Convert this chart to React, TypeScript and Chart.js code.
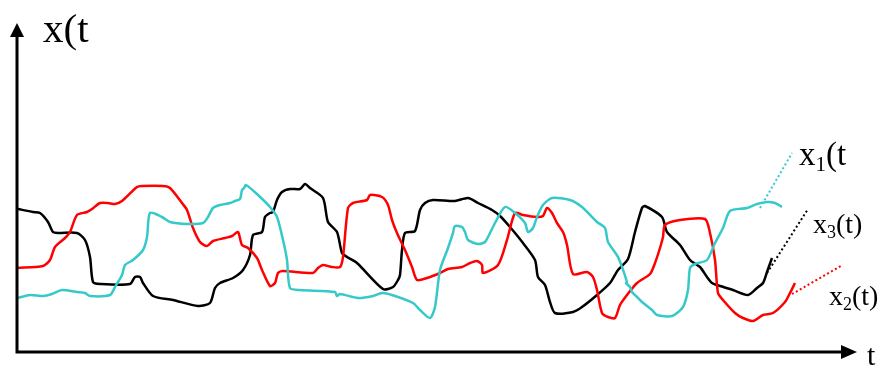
import React, { useEffect, useRef } from "react";
import { Chart, registerables } from "chart.js";

Chart.register(...registerables);

// x3(t) — black curve: [t, value]
const blackSeries: [number, number][] = [
  [1,143],[16,140],[23,139],[31,130],[36,120],[41,119],[60,119],[68,112],[73,95],[76,70],[83,68],[113,68],[118,75],[123,75],[126,69],[136,56],[156,52],[181,46],[193,49],[198,64],[203,69],[216,74],[226,82],[233,97],[236,117],[245,120],[248,135],[253,139],[256,140],[260,152],[265,160],[273,163],[283,163],[288,168],[293,164],[306,154],[311,130],[320,120],[325,99],[330,95],[340,89],[366,63],[376,65],[381,72],[383,77],[385,102],[388,119],[398,121],[403,142],[408,149],[416,152],[438,151],[451,154],[461,149],[475,142],[483,136],[493,125],[506,109],[518,92],[521,75],[528,67],[533,50],[538,39],[556,40],[565,45],[580,57],[593,69],[601,82],[611,93],[618,120],[625,144],[628,146],[645,135],[650,120],[663,107],[673,92],[683,85],[690,75],[695,69],[703,66],[716,62],[731,57],[740,64],[746,69],[750,80],[755,94]
];

// x2(t) — red curve
const redSeries: [number, number][] = [
  [0,84],[26,86],[33,92],[38,105],[48,114],[53,120],[60,137],[70,140],[75,143],[83,149],[91,149],[98,148],[105,151],[120,165],[125,166],[146,166],[153,164],[165,149],[170,142],[176,124],[183,110],[190,106],[196,111],[208,114],[215,116],[221,120],[225,107],[231,104],[240,94],[245,82],[253,66],[258,69],[261,79],[266,81],[296,79],[301,84],[306,87],[315,85],[323,85],[326,95],[331,144],[336,149],[350,152],[353,157],[365,155],[371,147],[375,132],[380,119],[388,102],[395,85],[400,72],[410,74],[423,79],[431,83],[445,85],[453,89],[460,91],[465,87],[466,79],[481,87],[490,112],[498,139],[506,137],[520,135],[526,136],[530,144],[535,139],[540,129],[546,120],[550,107],[556,78],[570,80],[576,75],[580,62],[585,39],[591,35],[598,34],[603,47],[610,57],[620,69],[633,78],[638,89],[643,104],[646,115],[648,127],[663,132],[688,133],[693,119],[698,92],[701,59],[706,52],[718,39],[726,34],[736,31],[746,37],[756,39],[768,50],[773,59],[778,69]
];

// x1(t) — cyan curve
const cyanSeries: [number, number][] = [
  [1,54],[13,57],[26,56],[35,58],[45,62],[60,60],[68,59],[73,56],[93,57],[98,65],[105,77],[108,87],[116,92],[126,102],[130,115],[133,139],[145,135],[153,130],[170,128],[186,129],[191,135],[196,144],[203,147],[213,149],[218,151],[223,153],[225,162],[227,164],[229,167],[241,157],[253,145],[260,135],[266,112],[270,92],[273,64],[283,62],[318,60],[320,56],[323,58],[341,54],[356,56],[365,59],[375,57],[396,49],[403,42],[413,34],[418,45],[423,82],[431,104],[436,119],[438,126],[445,125],[448,120],[451,112],[461,108],[468,110],[473,119],[478,129],[488,145],[498,139],[508,129],[511,120],[516,124],[520,135],[526,147],[535,154],[553,152],[565,145],[580,130],[588,124],[591,110],[601,95],[610,70],[609,69],[613,65],[615,60],[620,55],[625,50],[635,42],[640,37],[655,36],[666,45],[671,62],[673,84],[678,88],[690,92],[698,109],[706,124],[713,141],[730,144],[740,148],[750,150],[758,149],[765,145]
];

// dotted leader lines to the labels
const cyanLeader: [number, number][] = [[743,144],[775,199]];
const blackLeader: [number, number][] = [[750,79],[791,143]];
const redLeader: [number, number][] = [[775,58],[824,86]];

// axis extents (in data units)
const tMin = -17;
const tMax = 869;
const vMin = -15;
const vMax = 352;
const tAxisEnd = 840;
const vAxisEnd = 329;

// labels
const labelTexts: { main: string; sub: string; rest: string; t: number; v: number; size: number }[] = [
  { main: "x(t", sub: "", rest: "", t: 26, v: 310, size: 41 },
  { main: "x", sub: "1", rest: "(t", t: 782, v: 187, size: 33 },
  { main: "x", sub: "3", rest: "(t)", t: 796, v: 119, size: 28 },
  { main: "x", sub: "2", rest: "(t)", t: 812, v: 47, size: 28 },
  { main: "t", sub: "", rest: "", t: 850, v: -13, size: 30 },
];

const toPts = (arr: [number, number][]) => arr.map(([x, y]) => ({ x, y }));

const FONT = '"Liberation Serif", "Times New Roman", serif';

const decorPlugin = {
  id: "decor",
  afterDatasetsDraw(chart: any) {
    const ctx = chart.ctx as CanvasRenderingContext2D;
    const xs = chart.scales.x;
    const ys = chart.scales.y;
    const ox = xs.getPixelForValue(0);
    const oy = ys.getPixelForValue(0);
    const ex = xs.getPixelForValue(tAxisEnd);
    const ey = ys.getPixelForValue(vAxisEnd);
    ctx.save();
    ctx.strokeStyle = "#000";
    ctx.fillStyle = "#000";
    ctx.lineWidth = 3;
    ctx.lineCap = "butt";
    ctx.beginPath();
    ctx.moveTo(ox, oy);
    ctx.lineTo(ox, ey + 10);
    ctx.moveTo(ox - 1.5, oy);
    ctx.lineTo(ex - 12, oy);
    ctx.stroke();
    ctx.beginPath();
    ctx.moveTo(ox, ey);
    ctx.lineTo(ox - 7, ey + 14);
    ctx.lineTo(ox + 7, ey + 14);
    ctx.closePath();
    ctx.fill();
    ctx.beginPath();
    ctx.moveTo(ex, oy);
    ctx.lineTo(ex - 16, oy - 7);
    ctx.lineTo(ex - 16, oy + 7);
    ctx.closePath();
    ctx.fill();
    ctx.textBaseline = "alphabetic";
    ctx.textAlign = "left";
    for (const l of labelTexts) {
      let x = xs.getPixelForValue(l.t);
      const y = ys.getPixelForValue(l.v);
      ctx.font = `${l.size}px ${FONT}`;
      ctx.fillText(l.main, x, y);
      x += ctx.measureText(l.main).width;
      if (l.sub) {
        const s = Math.round(l.size * 0.65);
        ctx.font = `${s}px ${FONT}`;
        ctx.fillText(l.sub, x, y + l.size * 0.17);
        x += ctx.measureText(l.sub).width;
      }
      if (l.rest) {
        ctx.font = `${l.size}px ${FONT}`;
        ctx.fillText(l.rest, x, y);
      }
    }
    ctx.restore();
  },
};

export default function App() {
  const ref = useRef<HTMLCanvasElement | null>(null);
  useEffect(() => {
    document.body.style.margin = "0";
    const canvas = ref.current;
    if (!canvas) return;
    const cyan = "#36c9c9";
    const line = (data: [number, number][], color: string) => ({
      data: toPts(data),
      borderColor: color,
      borderWidth: 2.5,
      pointRadius: 0,
      tension: 0.25,
      fill: false,
    });
    const dotted = (data: [number, number][], color: string) => ({
      data: toPts(data),
      borderColor: color,
      borderWidth: 2,
      borderDash: [2, 2.5],
      pointRadius: 0,
      tension: 0,
      fill: false,
    });
    const chart = new Chart(canvas, {
      type: "line",
      data: {
        datasets: [
          line(cyanSeries, cyan),
          line(redSeries, "#ff0000"),
          line(blackSeries, "#000000"),
          dotted(cyanLeader, cyan),
          dotted(blackLeader, "#000000"),
          dotted(redLeader, "#ff0000"),
        ] as any,
      },
      options: {
        animation: false,
        responsive: false,
        maintainAspectRatio: false,
        layout: { padding: 0 },
        plugins: { legend: { display: false }, tooltip: { enabled: false } },
        scales: {
          x: { type: "linear", min: tMin, max: tMax, display: false },
          y: { type: "linear", min: vMin, max: vMax, display: false },
        },
      },
      plugins: [decorPlugin],
    });
    return () => chart.destroy();
  }, []);
  return (
    <div style={{ width: 886, height: 367, background: "#fff" }}>
      <canvas ref={ref} width={886} height={367} style={{ display: "block" }} />
    </div>
  );
}
